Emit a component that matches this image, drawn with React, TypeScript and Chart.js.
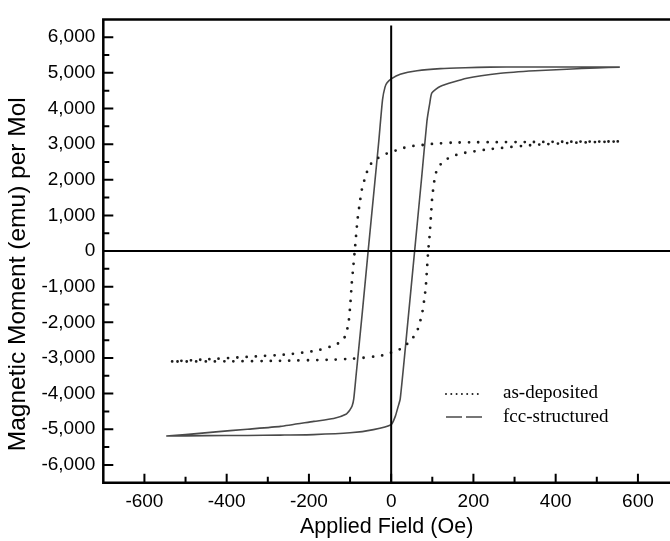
import React, { useEffect, useRef } from 'react';
import { Chart, registerables } from 'chart.js';

Chart.register(...registerables);

// Axis ticks
const xTicks = [-600, -400, -200, 0, 200, 400, 600];
const xMinorTicks = [-500, -300, -100, 100, 300, 500];
const yTicks = [-6000, -5000, -4000, -3000, -2000, -1000, 0, 1000, 2000, 3000, 4000, 5000, 6000];
const yMinorTicks = [-5500, -4500, -3500, -2500, -1500, -500, 500, 1500, 2500, 3500, 4500, 5500];

const seriesLabels = ['as-deposited', 'fcc-structured'];
const xTitle = 'Applied Field (Oe)';
const yTitle = 'Magnetic Moment (emu) per Mol';

// fcc-structured: descending branch (+H -> -H)
const fccDescField = [556, 480, 400, 320, 240, 180, 120, 63, 22, 0, -10, -15, -21, -30, -40, -56, -70, -85, -91, -95, -100, -110, -140, -188, -269, -350, -433, -500, -547];
const fccDescMoment = [5160, 5165, 5165, 5165, 5160, 5145, 5120, 5060, 4960, 4830, 4720, 4600, 4250, 3100, 1900, 0, -1700, -3450, -4150, -4350, -4450, -4580, -4700, -4780, -4920, -5000, -5080, -5150, -5190];
// fcc-structured: ascending branch (-H -> +H)
const fccAscField = [-547, -450, -350, -270, -189, -100, -43, 0, 10, 16, 22, 40, 57, 74, 87, 94, 99, 119, 184, 266, 350, 427, 500, 556];
const fccAscMoment = [-5190, -5180, -5175, -5165, -5150, -5100, -5010, -4870, -4640, -4400, -4150, -2050, 0, 2050, 3650, 4160, 4440, 4620, 4850, 4990, 5060, 5100, 5140, 5160];

// as-deposited: descending branch
const asDescField = [551, 450, 345, 250, 190, 148, 102, 80, 57, 35, 15, 0, -32, -53, -62, -70, -76, -82, -88, -92, -96, -99, -103, -108, -116, -135, -180, -253, -350, -450, -537];
const asDescMoment = [3075, 3070, 3060, 3055, 3050, 3040, 3010, 2980, 2955, 2910, 2830, 2790, 2610, 2400, 2100, 1800, 1380, 860, 80, -425, -930, -1440, -1950, -2250, -2480, -2630, -2790, -2900, -2970, -3040, -3100];
// as-deposited: ascending branch
const asAscField = [-537, -400, -270, -150, -92, -40, -20, 0, 24, 46, 62, 69, 75, 80, 84, 87, 90, 94, 97, 100, 103, 106, 112, 128, 150, 171, 241, 350, 450, 551];
const asAscMoment = [-3100, -3095, -3080, -3050, -3020, -2960, -2925, -2850, -2740, -2530, -2280, -2030, -1770, -1400, -1030, -520, 0, 500, 1030, 1540, 1800, 2050, 2300, 2530, 2660, 2740, 2860, 2980, 3040, 3075];

const toPoints = (xs: number[], ys: number[]) => xs.map((x, i) => ({ x, y: ys[i] }));

const SANS = '"Liberation Sans", Arial, Helvetica, sans-serif';
const SERIF = '"Liberation Serif", "Times New Roman", serif';

const framePlugin = {
  id: 'frame',
  afterDatasetsDraw(chart: any) {
    const { ctx, chartArea: a, scales } = chart;
    const x = scales.x;
    const y = scales.y;
    ctx.save();
    ctx.strokeStyle = '#000';
    ctx.lineCap = 'butt';

    // zero cross lines
    const x0 = x.getPixelForValue(0);
    const y0 = y.getPixelForValue(0);
    ctx.lineWidth = 2;
    ctx.beginPath();
    ctx.moveTo(x0, y.getPixelForValue(6330));
    ctx.lineTo(x0, a.bottom);
    ctx.moveTo(a.left, y0);
    ctx.lineTo(a.right, y0);
    ctx.stroke();

    // frame (left, top, bottom)
    ctx.lineWidth = 2.5;
    ctx.beginPath();
    ctx.moveTo(a.right, a.top);
    ctx.lineTo(a.left, a.top);
    ctx.lineTo(a.left, a.bottom);
    ctx.lineTo(a.right, a.bottom);
    ctx.stroke();

    // inward ticks
    ctx.lineWidth = 2;
    ctx.beginPath();
    yTicks.forEach((v) => {
      const py = y.getPixelForValue(v);
      ctx.moveTo(a.left, py);
      ctx.lineTo(a.left + 10, py);
    });
    yMinorTicks.forEach((v) => {
      const py = y.getPixelForValue(v);
      ctx.moveTo(a.left, py);
      ctx.lineTo(a.left + 6, py);
    });
    xTicks.forEach((v) => {
      const px = x.getPixelForValue(v);
      ctx.moveTo(px, a.bottom);
      ctx.lineTo(px, a.bottom - 9);
    });
    xMinorTicks.forEach((v) => {
      const px = x.getPixelForValue(v);
      ctx.moveTo(px, a.bottom);
      ctx.lineTo(px, a.bottom - 6);
    });
    ctx.stroke();

    // y-axis title
    ctx.save();
    ctx.translate(18, y.getPixelForValue(-650));
    ctx.rotate(-Math.PI / 2);
    ctx.fillStyle = '#000';
    ctx.font = `24.5px ${SANS}`;
    ctx.textAlign = 'center';
    ctx.textBaseline = 'middle';
    ctx.fillText(yTitle, 0, 0);
    ctx.restore();

    // legend
    const ds = chart.data.datasets;
    const lx = 446;
    const rows = [394, 417];
    ctx.fillStyle = '#fff';
    ctx.fillRect(498, 376, 130, 58);

    // dotted sample
    ctx.strokeStyle = ds[0].borderColor;
    ctx.lineWidth = 2;
    ctx.lineCap = 'round';
    ctx.setLineDash([0, 5.3]);
    ctx.beginPath();
    ctx.moveTo(lx, rows[0]);
    ctx.lineTo(lx + 32, rows[0]);
    ctx.stroke();

    // dashed sample
    ctx.strokeStyle = ds[1].borderColor;
    ctx.lineWidth = 1.5;
    ctx.lineCap = 'butt';
    ctx.setLineDash([16, 4]);
    ctx.beginPath();
    ctx.moveTo(lx, rows[1]);
    ctx.lineTo(lx + 36, rows[1]);
    ctx.stroke();
    ctx.setLineDash([]);

    ctx.fillStyle = '#000';
    ctx.font = `19px ${SERIF}`;
    ctx.textAlign = 'left';
    ctx.textBaseline = 'middle';
    ctx.fillText(ds[0].label, 503, rows[0] - 1);
    ctx.fillText(ds[1].label, 503, rows[1]);
    ctx.restore();
  },
};

export default function App() {
  const canvasRef = useRef<HTMLCanvasElement | null>(null);

  useEffect(() => {
    const canvas = canvasRef.current;
    if (!canvas) return;
    const asDep = [...toPoints(asDescField, asDescMoment), ...toPoints(asAscField, asAscMoment)];
    const fcc = [...toPoints(fccDescField, fccDescMoment), ...toPoints(fccAscField, fccAscMoment)];

    const chart = new Chart(canvas, {
      type: 'scatter',
      data: {
        datasets: [
          {
            label: seriesLabels[0],
            data: asDep,
            showLine: true,
            borderColor: '#1c1c1c',
            borderWidth: 2.8,
            borderDash: [0, 9.3],
            borderCapStyle: 'round',
            pointRadius: 0,
            tension: 0.2,
            fill: false,
          },
          {
            label: seriesLabels[1],
            data: fcc,
            showLine: true,
            borderColor: '#4a4a4a',
            borderWidth: 1.6,
            pointRadius: 0,
            tension: 0.2,
            fill: false,
          },
        ],
      },
      options: {
        animation: false,
        responsive: false,
        maintainAspectRatio: false,
        layout: { padding: { top: 15.7, right: 0, left: 0, bottom: 0 } },
        plugins: { legend: { display: false }, tooltip: { enabled: false } },
        scales: {
          x: {
            type: 'linear',
            min: -700,
            max: 678,
            afterBuildTicks: (s: any) => {
              s.ticks = xTicks.map((v) => ({ value: v }));
            },
            afterFit: (s: any) => {
              s.height = 58.3;
            },
            grid: { display: false, drawTicks: false },
            border: { display: false },
            ticks: {
              autoSkip: false,
              maxRotation: 0,
              color: '#000',
              padding: 8,
              font: { family: SANS, size: 19 },
              callback: (v: any) => String(v),
            },
            title: {
              display: true,
              text: xTitle,
              color: '#000',
              font: { family: SANS, size: 21.5 },
              padding: { top: 0, bottom: 1 },
            },
          },
          y: {
            type: 'linear',
            min: -6500,
            max: 6500,
            afterBuildTicks: (s: any) => {
              s.ticks = yTicks.map((v) => ({ value: v }));
            },
            afterFit: (s: any) => {
              s.width = 103.3;
            },
            grid: { display: false, drawTicks: false },
            border: { display: false },
            ticks: {
              autoSkip: false,
              color: '#000',
              padding: 8,
              font: { family: SANS, size: 19 },
              callback: (v: any) => Number(v).toLocaleString('en-US'),
            },
            title: { display: false },
          },
        },
      },
      plugins: [framePlugin],
    } as any);

    return () => {
      chart.destroy();
    };
  }, []);

  return (
    <div style={{ position: 'absolute', left: 0, top: 0, width: 670, height: 541, background: '#fff' }}>
      <canvas ref={canvasRef} width={670} height={541} style={{ display: 'block', width: 670, height: 541 }} />
    </div>
  );
}
